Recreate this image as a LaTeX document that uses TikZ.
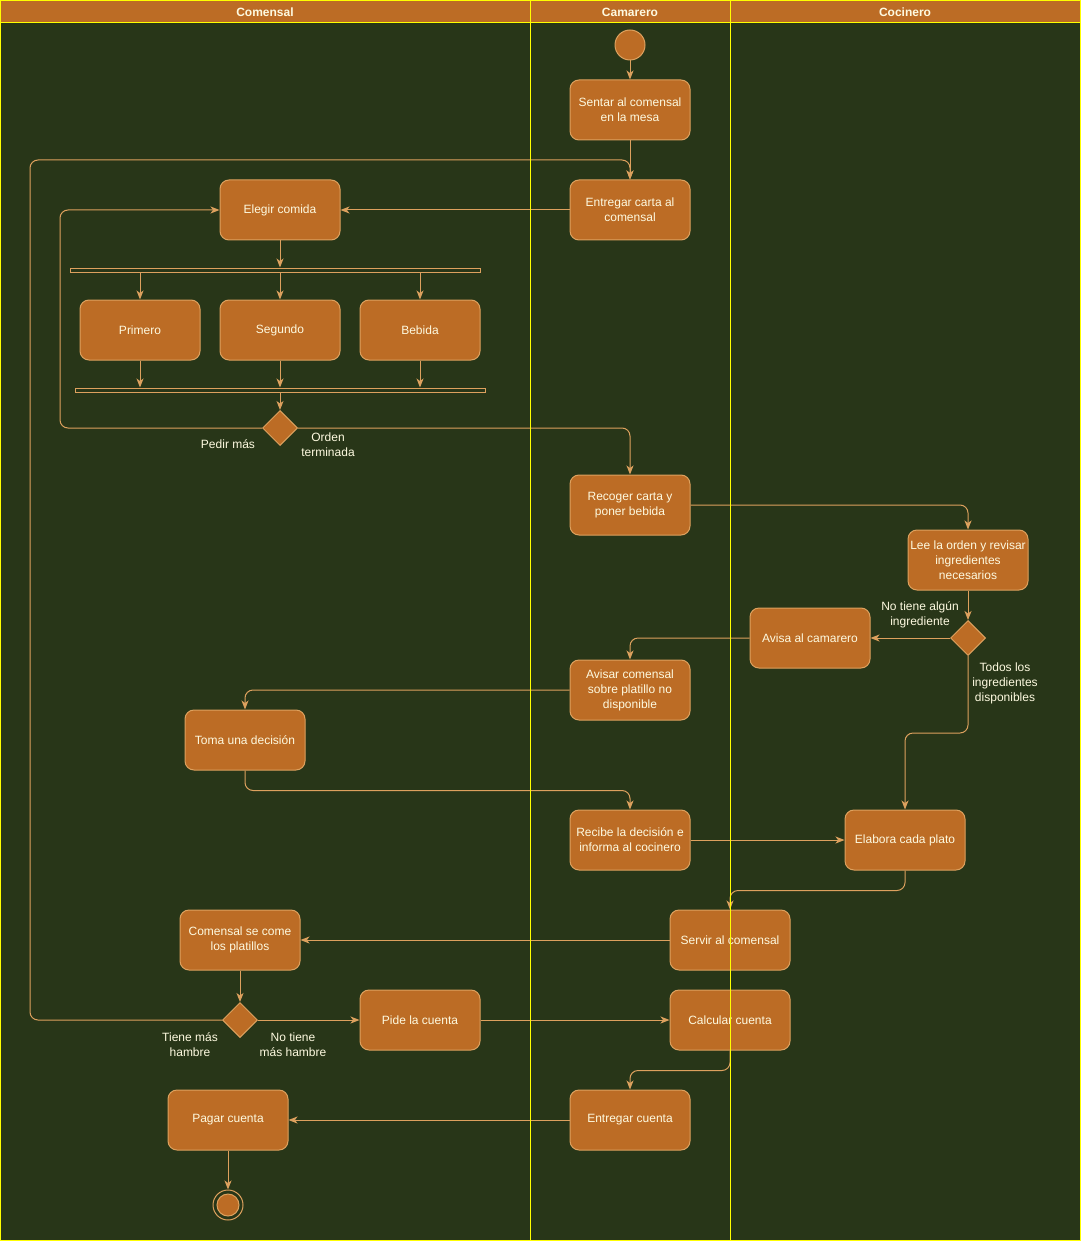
\documentclass[tikz,border=0pt]{standalone}
\usepackage{fontspec}
\setmainfont{Liberation Sans}
\usetikzlibrary{arrows.meta,shapes.geometric}
\definecolor{bgdark}{HTML}{283618}
\definecolor{boxfill}{HTML}{BC6C25}
\definecolor{boxline}{HTML}{DDA15E}
\definecolor{ink}{HTML}{FEFAE0}
\definecolor{lane}{HTML}{FFFF00}
\begin{document}
\begin{tikzpicture}[x=1pt,y=-1pt,
  every node/.style={font=\fontsize{12}{15}\selectfont, text=ink},
  act/.style={draw=boxline, fill=boxfill, line width=1pt, rounded corners=9pt,
    minimum width=120pt, minimum height=60pt, inner sep=0pt, align=center},
  choice/.style={draw=boxline, fill=boxfill, line width=1pt, diamond,
    minimum width=35pt, minimum height=35pt, inner sep=0pt},
  bar/.style={draw=boxline, line width=1pt, rectangle, minimum height=4pt,
    inner sep=0pt},
  startdot/.style={draw=boxline, fill=boxfill, line width=1pt, circle,
    minimum size=30pt, inner sep=0pt},
  guard/.style={align=center, inner sep=0pt},
  flow/.style={draw=boxline, line width=1pt, rounded corners=8pt,
    -{Stealth[length=9pt,width=7pt,inset=2.5pt]}},
  lanehead/.style={font=\bfseries\fontsize{12}{15}\selectfont, text=ink}
]
\useasboundingbox (0,0) rectangle (1081,1241);
\fill[bgdark] (0,0) rectangle (1081,1241);
\fill[boxfill] (0,0) rectangle (1081,23);
\node[lanehead] (hcom) at (265,12) {Comensal};
\node[lanehead] (hcam) at (630,12) {Camarero};
\node[lanehead] (hcoc) at (905,12) {Cocinero};

% waiter lane, top
\node[startdot] (ini) at (630,45) {};
\node[act] (sentar) at (630,110) {Sentar al comensal\\en la mesa};
\node[act] (carta) at (630,210) {Entregar carta al\\comensal};

% ordering
\node[act] (elegir) at (280,210) {Elegir comida};
\node[bar, minimum width=410pt] (fork) at (275,270) {};
\node[act] (primero) at (140,330) {Primero};
\node[act] (segundo) at (280,330) {Segundo};
\node[act] (bebida) at (420,330) {Bebida};
\node[bar, minimum width=410pt] (join) at (280,390) {};
\node[choice] (dorden) at (280,428) {};
\node[guard] (gmas) at (228,444) {Pedir más};
\node[guard] (gfin) at (328,445) {Orden\\terminada};

\node[act] (recoger) at (630,505) {Recoger carta y\\poner bebida};

% kitchen
\node[act] (lee) at (968,560) {Lee la orden y revisar\\ingredientes\\necesarios};
\node[choice] (dingr) at (968,638) {};
\node[guard] (gfalta) at (920,615) {No tiene algún\\ingrediente};
\node[guard] (gtodos) at (1005,683) {Todos los\\ingredientes\\disponibles};
\node[act] (avisa) at (810,638) {Avisa al camarero};
\node[act] (avisarc) at (630,690) {Avisar comensal\\sobre platillo no\\disponible};
\node[act] (toma) at (245,740) {Toma una decisión};
\node[act] (recibe) at (630,840) {Recibe la decisión e\\informa al cocinero};
\node[act] (elabora) at (905,840) {Elabora cada plato};

% serving and paying
\node[act] (servir) at (730,940) {Servir al comensal};
\node[act] (come) at (240,940) {Comensal se come\\los platillos};
\node[choice] (dhambre) at (240,1020) {};
\node[guard] (gsi) at (190,1045) {Tiene más\\hambre};
\node[guard] (gno) at (293,1045) {No tiene\\más hambre};
\node[act] (pide) at (420,1020) {Pide la cuenta};
\node[act] (calcular) at (730,1020) {Calcular cuenta};
\node[act] (entregac) at (630,1120) {Entregar cuenta};
\node[act] (pagar) at (228,1120) {Pagar cuenta};
\node[draw=boxline, line width=1pt, circle, minimum size=30pt, inner sep=0pt] (fin) at (228,1205) {};
\node[draw=boxline, fill=boxfill, line width=1pt, circle, minimum size=22pt, inner sep=0pt] (fincore) at (fin) {};

% connectors
\draw[flow] (ini) -- (sentar);
\draw[flow] (sentar) -- (carta);
\draw[flow] (carta) -- (elegir);
\draw[flow] (elegir.south) -- (elegir.south |- fork.north);
\foreach \n in {primero,segundo,bebida}{
  \draw[flow] (\n.north |- fork.south) -- (\n.north);
  \draw[flow] (\n.south) -- (\n.south |- join.north);
}
\draw[flow] (dorden.north |- join.south) -- (dorden.north);
\draw[flow] (dorden.west) -- (60,428) -- (60,210) -- (elegir.west);
\draw[flow] (dorden.east) -| (recoger.north);
\draw[flow] (recoger.east) -| (lee.north);
\draw[flow] (lee) -- (dingr);
\draw[flow] (dingr.west) -- (avisa.east);
\draw[flow] (avisa.west) -| (avisarc.north);
\draw[flow] (avisarc.west) -| (toma.north);
\draw[flow] (toma.south) -- ++(0,20) -| (recibe.north);
\draw[flow] (recibe.east) -- (elabora.west);
\draw[flow] (dingr.south) -- (968,733) -| (elabora.north);
\draw[flow] (elabora.south) -- ++(0,20) -| (servir.north);
\draw[flow] (servir.west) -- (come.east);
\draw[flow] (come) -- (dhambre);
\draw[flow] (dhambre.west) -- (30,1020) -- (30,160) -| (carta.north);
\draw[flow] (dhambre.east) -- (pide.west);
\draw[flow] (pide.east) -- (calcular.west);
\draw[flow] (calcular.south) -- ++(0,20) -| (entregac.north);
\draw[flow] (entregac.west) -- (pagar.east);
\draw[flow] (pagar.south) -- (fin.north);

% swimlane frame on top
\draw[lane, line width=1pt] (0.5,0.5) rectangle (1080.5,1240.5);
\draw[lane, line width=1pt] (0,23) -- (1081,23);
\draw[lane, line width=1pt] (530,0) -- (530,1241);
\draw[lane, line width=1pt] (730,0) -- (730,1241);
\end{tikzpicture}
\end{document}
